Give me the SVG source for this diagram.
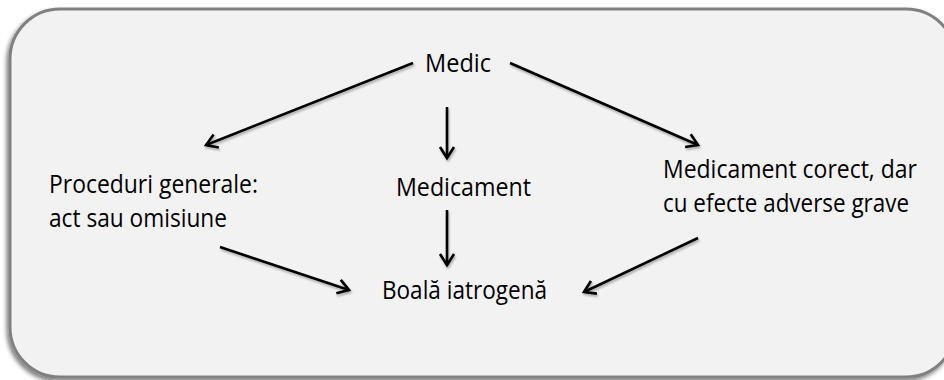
<svg xmlns="http://www.w3.org/2000/svg" width="944" height="380" viewBox="0 0 944 380">
<style>
.t{font-family:"Open Sans","Noto Sans","Liberation Sans",sans-serif;font-size:25px;fill:#000}
.c{fill:none;stroke:#000;stroke-width:2.6;stroke-linecap:butt}
</style>
<defs>
<filter id="bs" x="-5%" y="-5%" width="110%" height="115%">
<feDropShadow dx="-2" dy="3" stdDeviation="2" flood-color="#000" flood-opacity="0.5"/>
</filter>
<filter id="ls" x="-10%" y="-10%" width="120%" height="120%">
<feDropShadow dx="1" dy="2" stdDeviation="1.2" flood-color="#000" flood-opacity="0.3"/>
</filter>
<marker id="ah" viewBox="-16 -10 20 20" refX="0" refY="0" markerWidth="20" markerHeight="20" orient="auto" markerUnits="userSpaceOnUse">
<path d="M-11,-7 L0,0 L-11,7" fill="none" stroke="#000" stroke-width="2.6"/>
</marker>
</defs>
<rect x="0" y="0" width="944" height="380" fill="#ffffff"/>
<g id="frame">
<rect x="10" y="9" width="946" height="368" rx="50" ry="50" fill="#f2f2f2" stroke="#808080" stroke-width="3" filter="url(#bs)"/>
</g>
<g id="connectors" filter="url(#ls)">
<line class="c" x1="413" y1="63" x2="206" y2="145" marker-end="url(#ah)"/>
<line class="c" x1="447" y1="107" x2="447" y2="158" marker-end="url(#ah)"/>
<line class="c" x1="510" y1="63" x2="698" y2="145" marker-end="url(#ah)"/>
<line class="c" x1="447" y1="210" x2="447" y2="265" marker-end="url(#ah)"/>
<line class="c" x1="220" y1="247" x2="349" y2="290" marker-end="url(#ah)"/>
<line class="c" x1="698" y1="238" x2="584" y2="292" marker-end="url(#ah)"/>
</g>
<g id="medic"><text class="t" x="425" y="72" textLength="66" lengthAdjust="spacingAndGlyphs">Medic</text></g>
<g id="proceduri">
<text class="t" x="49" y="193" textLength="209" lengthAdjust="spacingAndGlyphs">Proceduri generale:</text>
<text class="t" x="49" y="227" textLength="178" lengthAdjust="spacingAndGlyphs">act sau omisiune</text>
</g>
<g id="medicament"><text class="t" x="396" y="196" textLength="135" lengthAdjust="spacingAndGlyphs">Medicament</text></g>
<g id="corect">
<text class="t" x="663" y="178" textLength="254" lengthAdjust="spacingAndGlyphs">Medicament corect, dar</text>
<text class="t" x="663" y="212" textLength="246" lengthAdjust="spacingAndGlyphs">cu efecte adverse grave</text>
</g>
<g id="boala"><text class="t" x="382" y="299" textLength="165" lengthAdjust="spacingAndGlyphs">Boală iatrogenă</text></g>
</svg>
